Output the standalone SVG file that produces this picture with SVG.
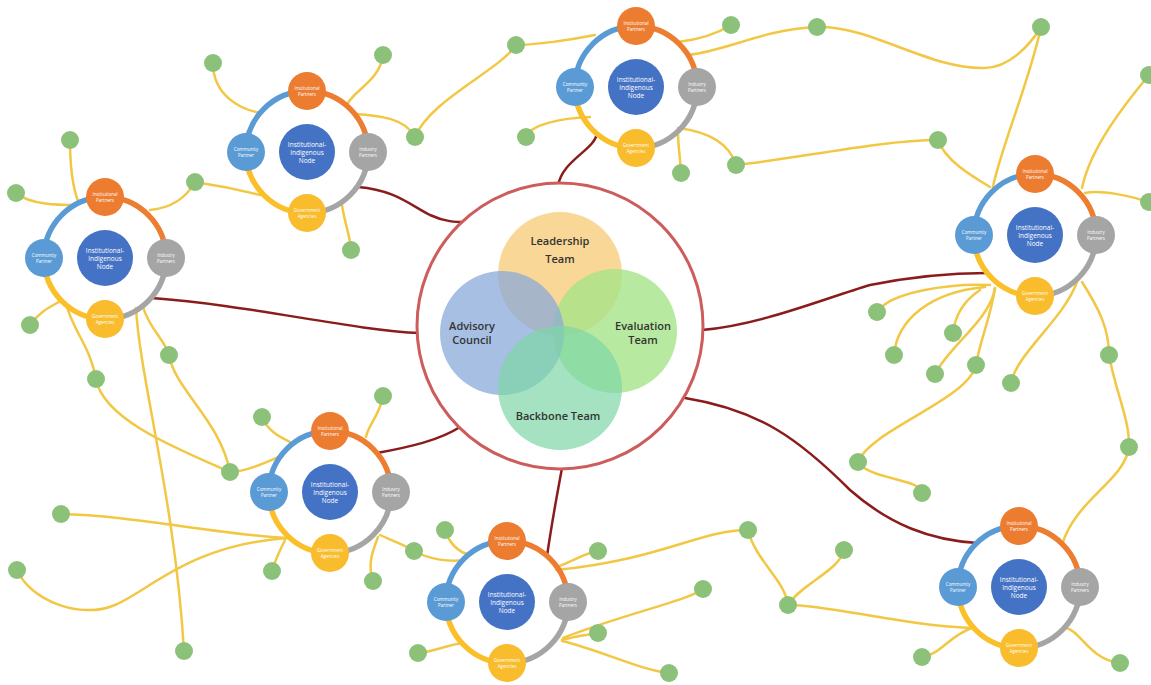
<svg xmlns="http://www.w3.org/2000/svg" width="1151" height="685" viewBox="0 0 1151 685">
<style>
.y{fill:none;stroke:#f2c744;stroke-width:2.5;stroke-linecap:round}
.r{fill:none;stroke:#8b1c1c;stroke-width:2.5;stroke-linecap:round}
.dot{fill:#8cc17a}
.ab{fill:none;stroke:#5b9bd5;stroke-width:5.5}
.ao{fill:none;stroke:#ed7d31;stroke-width:5.5}
.ag{fill:none;stroke:#a5a5a5;stroke-width:5.5}
.ay{fill:none;stroke:#fbbf2a;stroke-width:5.5}
.ip{fill:#ec7c30}
.cp{fill:#5b9bd5}
.dp{fill:#a5a5a5}
.ga{fill:#f8bc2c}
.nd{fill:#4472c4}
.st{font-family:"Open Sans","Liberation Sans",sans-serif;font-size:4.5px;fill:#fff;text-anchor:middle}
.nt{font-size:6.5px}
.vt{font-family:"Open Sans","Liberation Sans",sans-serif;font-size:11px;font-weight:600;fill:#333;text-anchor:middle}
</style>
<rect width="1151" height="685" fill="#fff"/>
<g id="connectors">
<path class="y" d="M213,63 C213,95 240,110 262,113"/>
<path class="y" d="M383,55 C380,80 355,90 348,103"/>
<path class="y" d="M356,114 C380,116 405,118 415,137"/>
<path class="y" d="M415,137 C430,100 500,70 516,45"/>
<path class="y" d="M195,182 C215,185 240,190 260,195"/>
<path class="y" d="M195,182 C185,200 170,208 150,210"/>
<path class="y" d="M342,205 C345,225 350,235 351,250"/>
<path class="y" d="M516,45 C535,45 570,40 595,35"/>
<path class="y" d="M526,137 C530,125 560,118 590,117"/>
<path class="y" d="M731,25 C715,35 695,40 678,42"/>
<path class="y" d="M688,55 C730,50 760,30 817,27 C870,25 930,70 985,68 C1010,67 1030,45 1041,27"/>
<path class="y" d="M678,128 C710,132 730,145 736,165"/>
<path class="y" d="M681,173 C680,155 678,145 678,133"/>
<path class="y" d="M736,165 C790,160 880,140 938,140"/>
<path class="y" d="M938,140 C945,160 970,175 990,187"/>
<path class="y" d="M1041,27 C1030,80 1000,150 993,187"/>
<path class="y" d="M1149,75 C1120,110 1090,150 1082,188"/>
<path class="y" d="M1085,193 C1100,190 1130,195 1150,203"/>
<path class="y" d="M70,140 C70,165 72,185 78,201"/>
<path class="y" d="M16,193 C30,205 60,205 76,205"/>
<path class="y" d="M30,325 C40,310 55,305 62,300"/>
<path class="y" d="M66,303 C72,330 90,345 96,379"/>
<path class="y" d="M96,379 C103,420 180,450 230,472"/>
<path class="y" d="M230,472 C245,472 265,463 283,455"/>
<path class="y" d="M143,307 C150,330 165,340 169,355"/>
<path class="y" d="M169,355 C175,390 220,420 230,472"/>
<path class="y" d="M136,308 C140,380 175,500 184,651"/>
<path class="y" d="M61,514 C130,515 220,535 287,538"/>
<path class="y" d="M17,570 C30,600 80,620 115,605 C150,590 190,545 287,538"/>
<path class="y" d="M262,417 C268,432 282,438 290,442"/>
<path class="y" d="M383,396 C380,415 368,425 366,437"/>
<path class="y" d="M272,571 C275,560 280,550 285,540"/>
<path class="y" d="M373,581 C367,565 373,550 378,537"/>
<path class="y" d="M414,551 C405,545 390,540 380,535"/>
<path class="y" d="M414,551 C430,560 450,562 464,560"/>
<path class="y" d="M445,530 C450,545 458,552 470,555"/>
<path class="y" d="M418,653 C432,652 448,645 462,643"/>
<path class="y" d="M598,551 C585,553 575,560 557,567"/>
<path class="y" d="M748,530 C700,530 660,560 556,570"/>
<path class="y" d="M748,530 C755,560 785,580 788,605"/>
<path class="y" d="M844,550 C840,570 800,585 790,603"/>
<path class="y" d="M788,605 C830,605 900,625 972,628"/>
<path class="y" d="M703,589 C690,600 620,615 563,638"/>
<path class="y" d="M598,633 C585,635 572,637 562,640"/>
<path class="y" d="M669,673 C640,670 600,650 562,641"/>
<path class="y" d="M922,657 C940,655 950,635 972,628"/>
<path class="y" d="M1066,628 C1080,630 1090,660 1120,663"/>
<path class="y" d="M1129,447 C1125,480 1075,500 1062,545"/>
<path class="y" d="M990,285 C950,283 890,292 877,312"/>
<path class="y" d="M985,287 C930,292 897,320 894,355"/>
<path class="y" d="M980,290 C965,300 955,315 953,333"/>
<path class="y" d="M995,288 C990,320 950,345 935,374"/>
<path class="y" d="M995,288 C990,320 980,340 976,365"/>
<path class="y" d="M976,365 C968,400 870,430 858,462"/>
<path class="y" d="M858,462 C870,480 920,478 922,493"/>
<path class="y" d="M1077,282 C1063,320 1017,353 1011,383"/>
<path class="y" d="M1082,282 C1100,310 1109,330 1109,355"/>
<path class="y" d="M1109,355 C1115,390 1130,420 1129,447"/>
<path class="r" d="M597,133 C595,150 562,160 558,186"/>
<path class="r" d="M358,187 C395,190 410,205 430,215 C445,222 455,222 468,222"/>
<path class="r" d="M152,298 C250,305 350,330 420,333"/>
<path class="r" d="M377,453 C410,447 440,440 460,427"/>
<path class="r" d="M562,468 C558,490 553,515 547,556"/>
<path class="r" d="M702,330 C760,325 820,300 870,285 C920,275 960,273 987,273"/>
<path class="r" d="M685,398 C760,410 800,440 850,490 C890,525 930,540 977,543"/>
</g>
<g id="leaves">
<circle class="dot" cx="213" cy="63" r="9"/><circle class="dot" cx="383" cy="55" r="9"/><circle class="dot" cx="415" cy="137" r="9"/>
<circle class="dot" cx="516" cy="45" r="9"/><circle class="dot" cx="526" cy="137" r="9"/><circle class="dot" cx="731" cy="25" r="9"/>
<circle class="dot" cx="817" cy="27" r="9"/><circle class="dot" cx="1041" cy="27" r="9"/><circle class="dot" cx="938" cy="140" r="9"/>
<circle class="dot" cx="736" cy="165" r="9"/><circle class="dot" cx="681" cy="173" r="9"/><circle class="dot" cx="1149" cy="75" r="9"/>
<circle class="dot" cx="1149" cy="202" r="9"/><circle class="dot" cx="195" cy="182" r="9"/><circle class="dot" cx="70" cy="140" r="9"/>
<circle class="dot" cx="16" cy="193" r="9"/><circle class="dot" cx="351" cy="250" r="9"/><circle class="dot" cx="30" cy="325" r="9"/>
<circle class="dot" cx="96" cy="379" r="9"/><circle class="dot" cx="169" cy="355" r="9"/><circle class="dot" cx="262" cy="417" r="9"/>
<circle class="dot" cx="383" cy="396" r="9"/><circle class="dot" cx="230" cy="472" r="9"/><circle class="dot" cx="61" cy="514" r="9"/>
<circle class="dot" cx="17" cy="570" r="9"/><circle class="dot" cx="184" cy="651" r="9"/><circle class="dot" cx="272" cy="571" r="9"/>
<circle class="dot" cx="373" cy="581" r="9"/><circle class="dot" cx="414" cy="551" r="9"/><circle class="dot" cx="445" cy="530" r="9"/>
<circle class="dot" cx="418" cy="653" r="9"/><circle class="dot" cx="598" cy="551" r="9"/><circle class="dot" cx="748" cy="530" r="9"/>
<circle class="dot" cx="844" cy="550" r="9"/><circle class="dot" cx="703" cy="589" r="9"/><circle class="dot" cx="788" cy="605" r="9"/>
<circle class="dot" cx="598" cy="633" r="9"/><circle class="dot" cx="669" cy="673" r="9"/><circle class="dot" cx="922" cy="657" r="9"/>
<circle class="dot" cx="1120" cy="663" r="9"/><circle class="dot" cx="877" cy="312" r="9"/><circle class="dot" cx="894" cy="355" r="9"/>
<circle class="dot" cx="953" cy="333" r="9"/><circle class="dot" cx="935" cy="374" r="9"/><circle class="dot" cx="976" cy="365" r="9"/>
<circle class="dot" cx="1011" cy="383" r="9"/><circle class="dot" cx="1109" cy="355" r="9"/><circle class="dot" cx="1129" cy="447" r="9"/>
<circle class="dot" cx="858" cy="462" r="9"/><circle class="dot" cx="922" cy="493" r="9"/>
</g>
<g id="core">
<circle cx="560" cy="326" r="143" fill="#fff" stroke="#cd5c5c" stroke-width="3"/>
<circle cx="560" cy="274" r="62" fill="#f8d084" fill-opacity="0.85"/>
<circle cx="615" cy="331" r="62" fill="#a6e488" fill-opacity="0.8"/>
<circle cx="502" cy="333" r="62" fill="#89a9d8" fill-opacity="0.75"/>
<circle cx="560" cy="388" r="62" fill="#7dd6a6" fill-opacity="0.7"/>
<text class="vt" x="560" y="245">Leadership</text>
<text class="vt" x="560" y="263">Team</text>
<text class="vt" x="472" y="330">Advisory</text>
<text class="vt" x="472" y="344">Council</text>
<text class="vt" x="643" y="330">Evaluation</text>
<text class="vt" x="643" y="344">Team</text>
<text class="vt" x="558" y="420">Backbone Team</text>
</g>
<g id="node-top" transform="translate(636,87)">
<path class="ab" d="M-61,0A61,61 0 0 1 0,-61"/><path class="ao" d="M0,-61A61,61 0 0 1 61,0"/><path class="ag" d="M61,0A61,61 0 0 1 0,61"/><path class="ay" d="M0,61A61,61 0 0 1 -61,0"/>
<circle class="nd" r="28"/>
<text class="st nt" y="-5">Institutional-</text><text class="st nt" y="3">Indigenous</text><text class="st nt" y="11">Node</text>
<circle class="ip" cy="-61" r="19"/><text class="st" y="-62">Institutional</text><text class="st" y="-56">Partners</text>
<circle class="cp" cx="-61" r="19"/><text class="st" x="-61" y="-1">Community</text><text class="st" x="-61" y="5">Partner</text>
<circle class="dp" cx="61" r="19"/><text class="st" x="61" y="-1">Industry</text><text class="st" x="61" y="5">Partners</text>
<circle class="ga" cy="61" r="19"/><text class="st" y="60">Government</text><text class="st" y="66">Agencies</text>
</g>
<g id="node-topleft" transform="translate(307,152)">
<path class="ab" d="M-61,0A61,61 0 0 1 0,-61"/><path class="ao" d="M0,-61A61,61 0 0 1 61,0"/><path class="ag" d="M61,0A61,61 0 0 1 0,61"/><path class="ay" d="M0,61A61,61 0 0 1 -61,0"/>
<circle class="nd" r="28"/>
<text class="st nt" y="-5">Institutional-</text><text class="st nt" y="3">Indigenous</text><text class="st nt" y="11">Node</text>
<circle class="ip" cy="-61" r="19"/><text class="st" y="-62">Institutional</text><text class="st" y="-56">Partners</text>
<circle class="cp" cx="-61" r="19"/><text class="st" x="-61" y="-1">Community</text><text class="st" x="-61" y="5">Partner</text>
<circle class="dp" cx="61" r="19"/><text class="st" x="61" y="-1">Industry</text><text class="st" x="61" y="5">Partners</text>
<circle class="ga" cy="61" r="19"/><text class="st" y="60">Government</text><text class="st" y="66">Agencies</text>
</g>
<g id="node-left" transform="translate(105,258)">
<path class="ab" d="M-61,0A61,61 0 0 1 0,-61"/><path class="ao" d="M0,-61A61,61 0 0 1 61,0"/><path class="ag" d="M61,0A61,61 0 0 1 0,61"/><path class="ay" d="M0,61A61,61 0 0 1 -61,0"/>
<circle class="nd" r="28"/>
<text class="st nt" y="-5">Institutional-</text><text class="st nt" y="3">Indigenous</text><text class="st nt" y="11">Node</text>
<circle class="ip" cy="-61" r="19"/><text class="st" y="-62">Institutional</text><text class="st" y="-56">Partners</text>
<circle class="cp" cx="-61" r="19"/><text class="st" x="-61" y="-1">Community</text><text class="st" x="-61" y="5">Partner</text>
<circle class="dp" cx="61" r="19"/><text class="st" x="61" y="-1">Industry</text><text class="st" x="61" y="5">Partners</text>
<circle class="ga" cy="61" r="19"/><text class="st" y="60">Government</text><text class="st" y="66">Agencies</text>
</g>
<g id="node-right" transform="translate(1035,235)">
<path class="ab" d="M-61,0A61,61 0 0 1 0,-61"/><path class="ao" d="M0,-61A61,61 0 0 1 61,0"/><path class="ag" d="M61,0A61,61 0 0 1 0,61"/><path class="ay" d="M0,61A61,61 0 0 1 -61,0"/>
<circle class="nd" r="28"/>
<text class="st nt" y="-5">Institutional-</text><text class="st nt" y="3">Indigenous</text><text class="st nt" y="11">Node</text>
<circle class="ip" cy="-61" r="19"/><text class="st" y="-62">Institutional</text><text class="st" y="-56">Partners</text>
<circle class="cp" cx="-61" r="19"/><text class="st" x="-61" y="-1">Community</text><text class="st" x="-61" y="5">Partner</text>
<circle class="dp" cx="61" r="19"/><text class="st" x="61" y="-1">Industry</text><text class="st" x="61" y="5">Partners</text>
<circle class="ga" cy="61" r="19"/><text class="st" y="60">Government</text><text class="st" y="66">Agencies</text>
</g>
<g id="node-lowerleft" transform="translate(330,492)">
<path class="ab" d="M-61,0A61,61 0 0 1 0,-61"/><path class="ao" d="M0,-61A61,61 0 0 1 61,0"/><path class="ag" d="M61,0A61,61 0 0 1 0,61"/><path class="ay" d="M0,61A61,61 0 0 1 -61,0"/>
<circle class="nd" r="28"/>
<text class="st nt" y="-5">Institutional-</text><text class="st nt" y="3">Indigenous</text><text class="st nt" y="11">Node</text>
<circle class="ip" cy="-61" r="19"/><text class="st" y="-62">Institutional</text><text class="st" y="-56">Partners</text>
<circle class="cp" cx="-61" r="19"/><text class="st" x="-61" y="-1">Community</text><text class="st" x="-61" y="5">Partner</text>
<circle class="dp" cx="61" r="19"/><text class="st" x="61" y="-1">Industry</text><text class="st" x="61" y="5">Partners</text>
<circle class="ga" cy="61" r="19"/><text class="st" y="60">Government</text><text class="st" y="66">Agencies</text>
</g>
<g id="node-bottom" transform="translate(507,602)">
<path class="ab" d="M-61,0A61,61 0 0 1 0,-61"/><path class="ao" d="M0,-61A61,61 0 0 1 61,0"/><path class="ag" d="M61,0A61,61 0 0 1 0,61"/><path class="ay" d="M0,61A61,61 0 0 1 -61,0"/>
<circle class="nd" r="28"/>
<text class="st nt" y="-5">Institutional-</text><text class="st nt" y="3">Indigenous</text><text class="st nt" y="11">Node</text>
<circle class="ip" cy="-61" r="19"/><text class="st" y="-62">Institutional</text><text class="st" y="-56">Partners</text>
<circle class="cp" cx="-61" r="19"/><text class="st" x="-61" y="-1">Community</text><text class="st" x="-61" y="5">Partner</text>
<circle class="dp" cx="61" r="19"/><text class="st" x="61" y="-1">Industry</text><text class="st" x="61" y="5">Partners</text>
<circle class="ga" cy="61" r="19"/><text class="st" y="60">Government</text><text class="st" y="66">Agencies</text>
</g>
<g id="node-bottomright" transform="translate(1019,587)">
<path class="ab" d="M-61,0A61,61 0 0 1 0,-61"/><path class="ao" d="M0,-61A61,61 0 0 1 61,0"/><path class="ag" d="M61,0A61,61 0 0 1 0,61"/><path class="ay" d="M0,61A61,61 0 0 1 -61,0"/>
<circle class="nd" r="28"/>
<text class="st nt" y="-5">Institutional-</text><text class="st nt" y="3">Indigenous</text><text class="st nt" y="11">Node</text>
<circle class="ip" cy="-61" r="19"/><text class="st" y="-62">Institutional</text><text class="st" y="-56">Partners</text>
<circle class="cp" cx="-61" r="19"/><text class="st" x="-61" y="-1">Community</text><text class="st" x="-61" y="5">Partner</text>
<circle class="dp" cx="61" r="19"/><text class="st" x="61" y="-1">Industry</text><text class="st" x="61" y="5">Partners</text>
<circle class="ga" cy="61" r="19"/><text class="st" y="60">Government</text><text class="st" y="66">Agencies</text>
</g>
</svg>
